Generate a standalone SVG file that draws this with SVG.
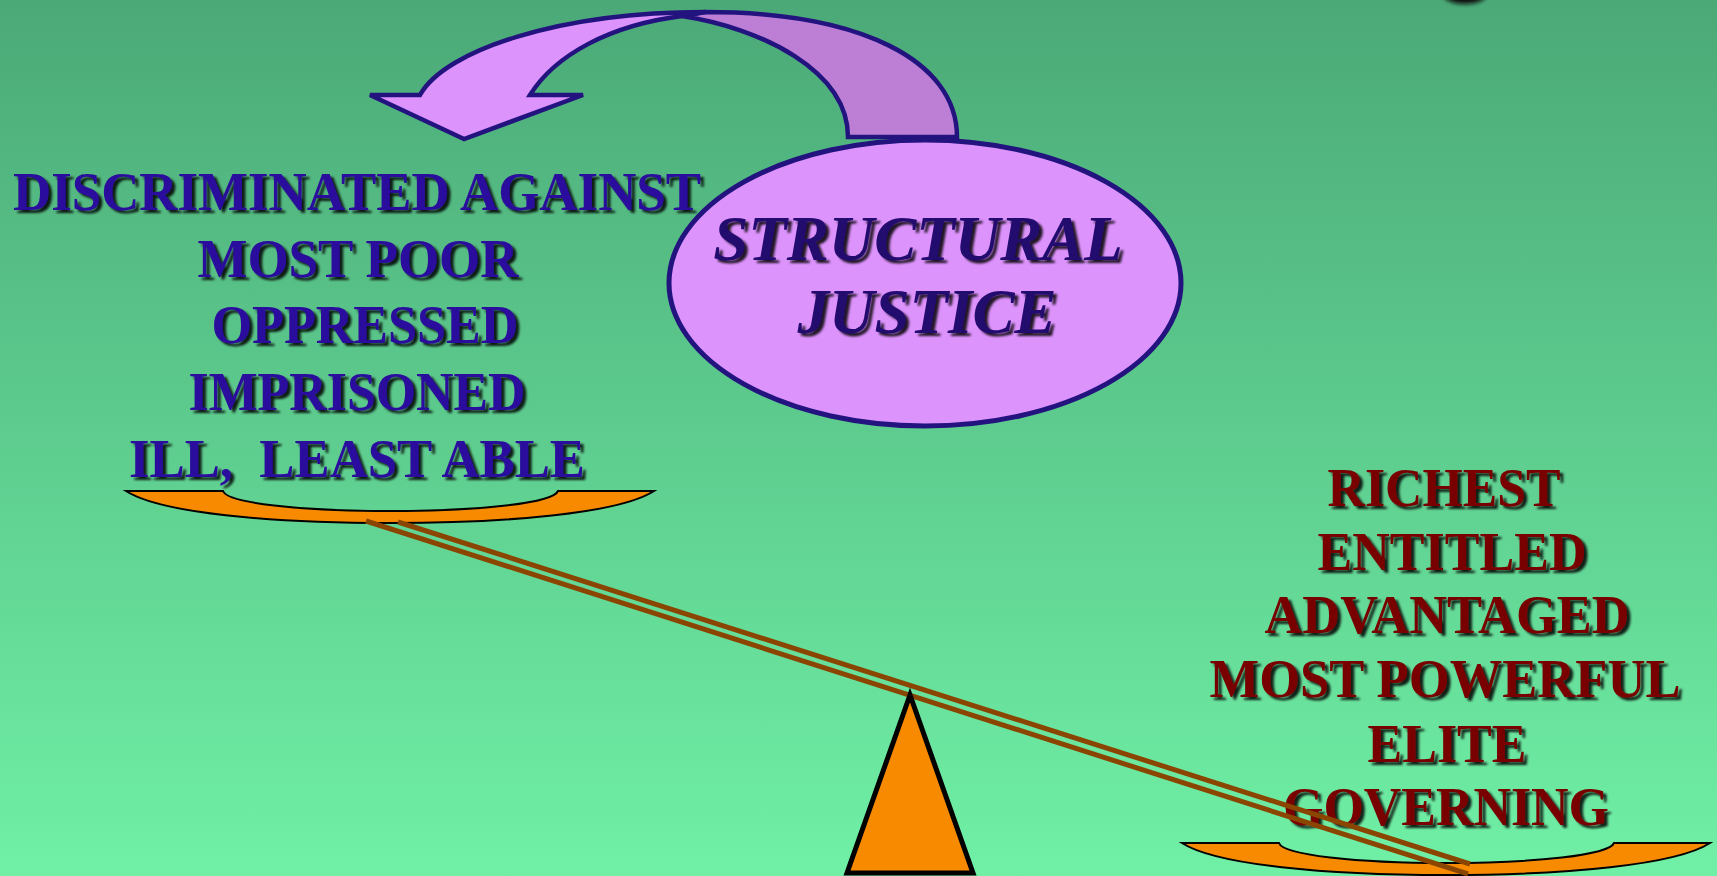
<svg xmlns="http://www.w3.org/2000/svg" width="1717" height="876" viewBox="0 0 1717 876">
<defs>
<linearGradient id="bg" x1="0" y1="0" x2="0" y2="1">
<stop offset="0" stop-color="#4BA977"/>
<stop offset="1" stop-color="#70F0A6"/>
</linearGradient>
<filter id="sh" x="-5%" y="-20%" width="115%" height="150%">
<feDropShadow dx="3.5" dy="3" stdDeviation="1.2" flood-color="#000" flood-opacity="0.85"/>
</filter>
<filter id="blur" x="-50%" y="-50%" width="200%" height="200%">
<feGaussianBlur stdDeviation="2"/>
</filter>
<path id="panShape" d="M -264,0 L -167,0 C -163,12 -90,20 0,20 C 90,20 163,12 168,0 L 264,0 C 230,22 120,32 0,32 C -120,32 -230,22 -264,0 Z"/>
</defs>
<style>
.t{font-family:"Liberation Serif","Times New Roman",serif;font-weight:bold;font-size:55px;text-anchor:middle;filter:url(#sh)}
.l{fill:#2A0A9C}
.r{fill:#780000;font-size:54px}
.sj{font-style:italic;font-size:63px;fill:#22086E}
.pan{fill:#F88A00;stroke:#000;stroke-width:2}
.beam{stroke:#8A4600;stroke-width:5;fill:none}
.arr{stroke:#23137F;stroke-width:4.5;stroke-linejoin:miter}
</style>
<rect x="0" y="0" width="1717" height="876" fill="url(#bg)"/>
<ellipse cx="1465" cy="-6" rx="22" ry="10" fill="#111" filter="url(#blur)"/>

<g id="curved-arrow">
<path class="arr" fill="#BD7FD6" d="M 848,137 L 957,137 C 957,60 860,12 705,12 L 682,16 C 760,28 848,70 848,137 Z"/>
<path class="arr" fill="#DD93FC" d="M 464,139 L 370,95 L 420,95 C 445,50 560,12 705,12 L 682,16 C 610,25 555,55 530,95 L 583,95 Z"/>
</g>

<g id="structural-justice">
<ellipse cx="925" cy="283" rx="256" ry="143" fill="#DD93FC" stroke="#23137F" stroke-width="5"/>
<text class="t sj" x="918" y="260">STRUCTURAL</text>
<text class="t sj" x="927" y="333">JUSTICE</text>
</g>

<g id="left-label">
<text class="t l" x="357" y="210" textLength="688" lengthAdjust="spacingAndGlyphs">DISCRIMINATED AGAINST</text>
<text class="t l" x="358" y="277" textLength="321" lengthAdjust="spacingAndGlyphs">MOST POOR</text>
<text class="t l" x="365" y="343" textLength="307" lengthAdjust="spacingAndGlyphs">OPPRESSED</text>
<text class="t l" x="357" y="410" textLength="337" lengthAdjust="spacingAndGlyphs">IMPRISONED</text>
<text class="t l" x="357" y="477" textLength="456" lengthAdjust="spacingAndGlyphs" xml:space="preserve">ILL,  LEAST ABLE</text>
</g>

<g id="right-label">
<text class="t r" x="1444" y="506" textLength="233" lengthAdjust="spacingAndGlyphs">RICHEST</text>
<text class="t r" x="1452" y="570" textLength="269" lengthAdjust="spacingAndGlyphs">ENTITLED</text>
<text class="t r" x="1447" y="633" textLength="365" lengthAdjust="spacingAndGlyphs">ADVANTAGED</text>
<text class="t r" x="1445" y="697" textLength="471" lengthAdjust="spacingAndGlyphs">MOST POWERFUL</text>
<text class="t r" x="1447" y="762" textLength="159" lengthAdjust="spacingAndGlyphs">ELITE</text>
<text class="t r" x="1446" y="825" textLength="326" lengthAdjust="spacingAndGlyphs">GOVERNING</text>
</g>

<g id="left-pan">
<use href="#panShape" class="pan" transform="translate(390,491)"/>
</g>
<g id="right-pan">
<use href="#panShape" class="pan" transform="translate(1446,843)"/>
</g>

<g id="connectors">
<line class="beam" x1="366" y1="521" x2="1468" y2="874"/>
<line class="beam" x1="398" y1="522" x2="1470" y2="864"/>
</g>

<g id="fulcrum">
<polygon points="910,695 847,873 973,873" fill="#F88A00" stroke="#000" stroke-width="5" stroke-linejoin="miter"/>
</g>
</svg>
